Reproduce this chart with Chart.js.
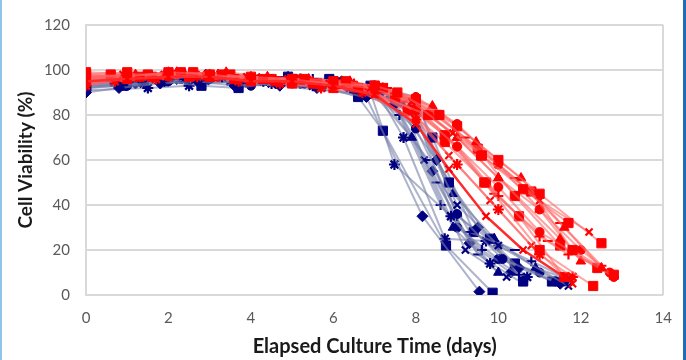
<!DOCTYPE html>
<html>
<head>
<meta charset="utf-8">
<title>Cell Viability</title>
<script src="https://cdn.jsdelivr.net/npm/chart.js"></script>
<style>
html,body{margin:0;padding:0;background:#fff}
body{width:686px;height:360px;overflow:hidden;position:relative}
#wrap{position:absolute;left:0;top:0;width:686px;height:360px}
.edgeL{position:absolute;left:0;top:0;width:2px;height:360px;background:#8ec5ea}
.edgeR{position:absolute;left:683px;top:0;width:3px;height:360px;background:#1f6db5}
</style>
</head>
<body>
<div id="wrap"><canvas id="chart" width="686" height="360"></canvas></div>
<div class="edgeL"></div><div class="edgeR"></div>
<script>
// blue runs (navy markers, grey-blue lines)
const blueDays = [
  [0,0.8,1.8,2.7,3.6,4.6,5.6,6.8,8.16,9.54],
  [0,0.9,1.9,2.8,3.7,4.7,5.7,6.6,7.2,8.73,9.86],
  [0,1.4,2.4,3.3,4.3,5.2,6.2,6.9,7.48,8.85,9.8],
  [0,1,1.9,2.9,3.9,4.9,5.9,6.9,7.9,8.9,10.0],
  [0,1.2,2.2,3.2,4.2,5.2,6.2,7.1,8,9,10,11.7],
  [0,1,2,3,4,5,6,7,8,9,10.1,11.4],
  [0,0.6,1.6,2.6,3.6,4.5,5.5,6.7,7.6,8.6,9.6,10.5],
  [0,1,2,3,4,5,6,7,8.3,9.3,10.4],
  [0,0.9,1.9,2.9,3.9,4.9,5.9,6.9,7.9,8.8,9.8,10.6],
  [0,0.8,1.9,2.7,3.7,4.7,5.6,6.5,7.5,8.5,9.5,10.5,11.5],
  [0,1.5,2.5,3.5,4.5,5.5,6.4,7.1,7.7,8.7,9.7,10.7],
  [0,1,2,3,4,5,6,7,7.9,8.9,9.9,10.9,11.7],
  [0,1.3,2.3,3.3,4.3,5.3,6.3,7.2,8,9.0,10.0,11.0,11.6],
  [0,0.9,1.9,2.9,3.8,4.8,5.8,6.8,7.7,8.2,9.2,10.2],
  [0,1,2,3,4,5,6,7,8,8.4,9.4,10.4,11.3],
  [0,0.7,1.7,2.7,3.7,4.7,5.7,6.5,7.5,8.5,9.5,10.6],
  [0,1,2,3,4,5,6,7,8,9.0,10.0,10.8,11.6],
  [0,1.2,2.2,3.2,4.2,5.2,6.2,7,7.4,8.4,9.3,10.3]
];
const blueViability = [
  [90,92,94,95,93,94,92,88,35,1.5],
  [92,93,95,93,92,95,93,88,73,22,1],
  [93,94,96,97,95,96,94,90,58,35,14],
  [94,95,97,98,96,97,95,91,70,30,10],
  [95,96,97,97,96,96,95,92,78,40,22,4],
  [93,93,95,96,93,94,93,90,74,36,16,6],
  [95,95,96,97,95,96,96,92,80,40,20,9],
  [96,97,98,97,98,96,95,92,60,28,20],
  [94,96,97,96,95,97,96,93,82,50,25,6],
  [92,94,95,96,94,93,94,91,85,60,30,12,5],
  [91,92,93,95,94,93,92,89,70,25,24,8],
  [95,96,97,96,95,94,94,92,85,45,25,12,7],
  [94,95,96,97,95,94,93,91,80,30,16,10,6],
  [93,95,96,95,94,95,94,91,85,60,20,8],
  [94,95,96,97,95,96,95,92,86,70,28,14,6],
  [92,93,95,96,94,93,91,90,84,50,18,5],
  [95,96,97,97,96,95,94,93,88,35,22,15,8],
  [93,94,96,97,96,94,95,92,88,55,23,10]
];
const blueMarkers = ['rectRot','rect','star','triangle','crossRot','circle','cross','line','rect',
  'rectRot','star','triangle','circle','crossRot','rect','line','cross','rectRot'];

// red runs (red markers, pink lines); index 7 is the bold average curve
const redDays = [
  [0,1,2,3,4,5,6,7,7.55,8.57,9.6,10.6,11.7],
  [0,0.9,1.9,2.9,3.9,4.9,5.9,6.9,7.9,8.9,10,11,12.2],
  [0,1.3,2.3,3.3,4.3,5.3,6.3,7.2,8,9,10,11,12.5],
  [0,1,2,3,4,5,6,7,8.4,9.46,10.55,11.6,12.5],
  [0,0.6,1.6,2.6,3.6,4.6,5.6,6.6,8.3,9.58,10.8,11.8,12.8],
  [0,1,2,3,4,5,6,7,8,9,10,11,12.8],
  [0,1.5,2.5,3.5,4.5,5.5,6.47,7.1,7.5,8.7,9.66,11,12.3],
  [0,1,2,3,4,5,6,7,8,8.8,9.7,10.6,11.6],
  [0,1.5,2.5,3.5,4.5,5.5,6.5,7.3,8,9,10,11,11.7],
  [0,1,2,3,4,5,6,7,8,9.2,10.4,11.5,12.5],
  [0,0.7,1.7,2.7,3.7,4.7,5.7,6.7,8,9,10,11,11.8],
  [0,1.2,2.2,3.2,4.2,5.2,6.2,7,8,9,10,11.5],
  [0,1,2,3,4,5,6,7,7.8,8.7,9.7,10.5,11.6],
  [0,0.8,1.8,2.8,3.8,4.8,5.8,6.8,8,8.8,9.8,10.8,11.8],
  [0,1.2,2.2,3.2,4.2,5.2,6.2,7,8,9,10,11,12,12.7],
  [0,1,2,3,4,5,6,7,8.5,9.5,10.4,11.5,12.4],
  [0,1.4,2.4,3.4,4.4,5.4,6.4,7.2,8,9,10,11,12],
  [0,1,2,3,4,5,6,7,7.7,8.7,9.9,11.2,12.6]
];
const redViability = [
  [97,97,99,98,96,95,94,93,90,80,62,47,32],
  [96,98,98,97,97,96,94,92,86,72,58,42,28],
  [98,97,99,98,96,96,95,92,87,75,60,45,23],
  [95,97,99,98,97,96,94,93,84,68,52,30,12],
  [96,98,97,99,96,95,94,92,80,62,46,20,9],
  [94,96,97,98,96,95,93,90,82,66,48,28,8],
  [99,98,97,98,96,94,93,92,88,71,50,20,4],
  [95,96,97,97,95,95,93,89,76,56,35,20,8],
  [96,97,98,97,96,95,94,92,84,66,44,26,18],
  [97,98,98,99,97,96,95,93,86,70,52,32,13],
  [93,95,96,97,95,94,92,90,78,58,38,18,8],
  [97,98,99,98,96,95,93,91,84,70,52,25],
  [95,96,98,97,95,94,92,90,82,68,50,35,8],
  [94,96,97,98,96,95,94,91,80,62,42,22,5],
  [96,97,98,97,96,96,94,92,88,76,58,38,20,10],
  [98,99,98,97,97,96,95,93,80,65,44,22,12],
  [95,97,98,99,97,96,95,92,85,70,52,38,15],
  [97,97,98,98,97,95,94,92,86,72,45,24,11]
];
const redMarkers = ['rect','crossRot','rect','triangle','rect','circle','rect','crossRot','cross',
  'line','star','triangle','rect','crossRot','circle','rect','triangle','line'];

const xTicks = [0,2,4,6,8,10,12,14];
const yTicks = [0,20,40,60,80,100,120];

const radii = {rect:6.5,rectRot:5.5,triangle:5.5,circle:4.5,crossRot:5,cross:5,star:5.5,line:5};
const strokeOnly = ['crossRot','cross','line','star'];

function makeSet(days, vals, marker, color, lineColor, width, order){
  return {
    data: days.map((d,i)=>({x:d,y:vals[i]})),
    showLine:true,
    borderColor:lineColor,
    borderWidth:width,
    pointStyle:marker,
    pointRadius:radii[marker],
    pointBackgroundColor:color,
    pointBorderColor:color,
    pointBorderWidth: strokeOnly.includes(marker) ? 2.2 : 1,
    order
  };
}

const datasets = [];
redDays.forEach((d,i)=>{
  const bold = i===7;
  datasets.push(makeSet(d, redViability[i], redMarkers[i], '#ff0000',
    bold ? '#ff2a2a' : 'rgba(255,100,100,0.6)', bold ? 2.5 : 2, bold ? 0 : 1));
});
blueDays.forEach((d,i)=>{
  datasets.push(makeSet(d, blueViability[i], blueMarkers[i], '#000080',
    'rgba(120,128,170,0.6)', 2, 2));
});

Chart.defaults.font.family = 'Lato';

new Chart(document.getElementById('chart'), {
  type:'scatter',
  data:{datasets},
  options:{
    responsive:false,
    animation:false,
    layout:{padding:{left:2,right:21,top:18,bottom:0}},
    plugins:{legend:{display:false},tooltip:{enabled:false}},
    scales:{
      x:{
        type:'linear', min:0, max:14,
        afterBuildTicks: s => { s.ticks = xTicks.map(v=>({value:v})); },
        afterFit: s => { s.height = 65; },
        ticks:{color:'#595959', font:{size:15}, padding:14},
        grid:{drawTicks:false, lineWidth:2,
          color: c => (c.tick && c.tick.value===14) ? '#d9d9d9' : 'rgba(0,0,0,0)'},
        border:{display:false},
        title:{display:true, text:'Elapsed Culture Time (days)', color:'#1a1a1a',
          font:{size:20, weight:'bold'}, padding:{top:0,bottom:1}}
      },
      y:{
        min:0, max:120,
        afterBuildTicks: s => { s.ticks = yTicks.map(v=>({value:v})); },
        afterFit: s => { s.width = 84; },
        ticks:{color:'#595959', font:{size:15}, padding:16},
        grid:{drawTicks:false, lineWidth:2, color:'#d9d9d9'},
        border:{display:true, color:'#d9d9d9', width:2},
        title:{display:true, text:'Cell Viability (%)', color:'#1a1a1a',
          font:{size:19, weight:'bold'}, padding:{top:12,bottom:0}}
      }
    }
  }
});
</script>
</body>
</html>
